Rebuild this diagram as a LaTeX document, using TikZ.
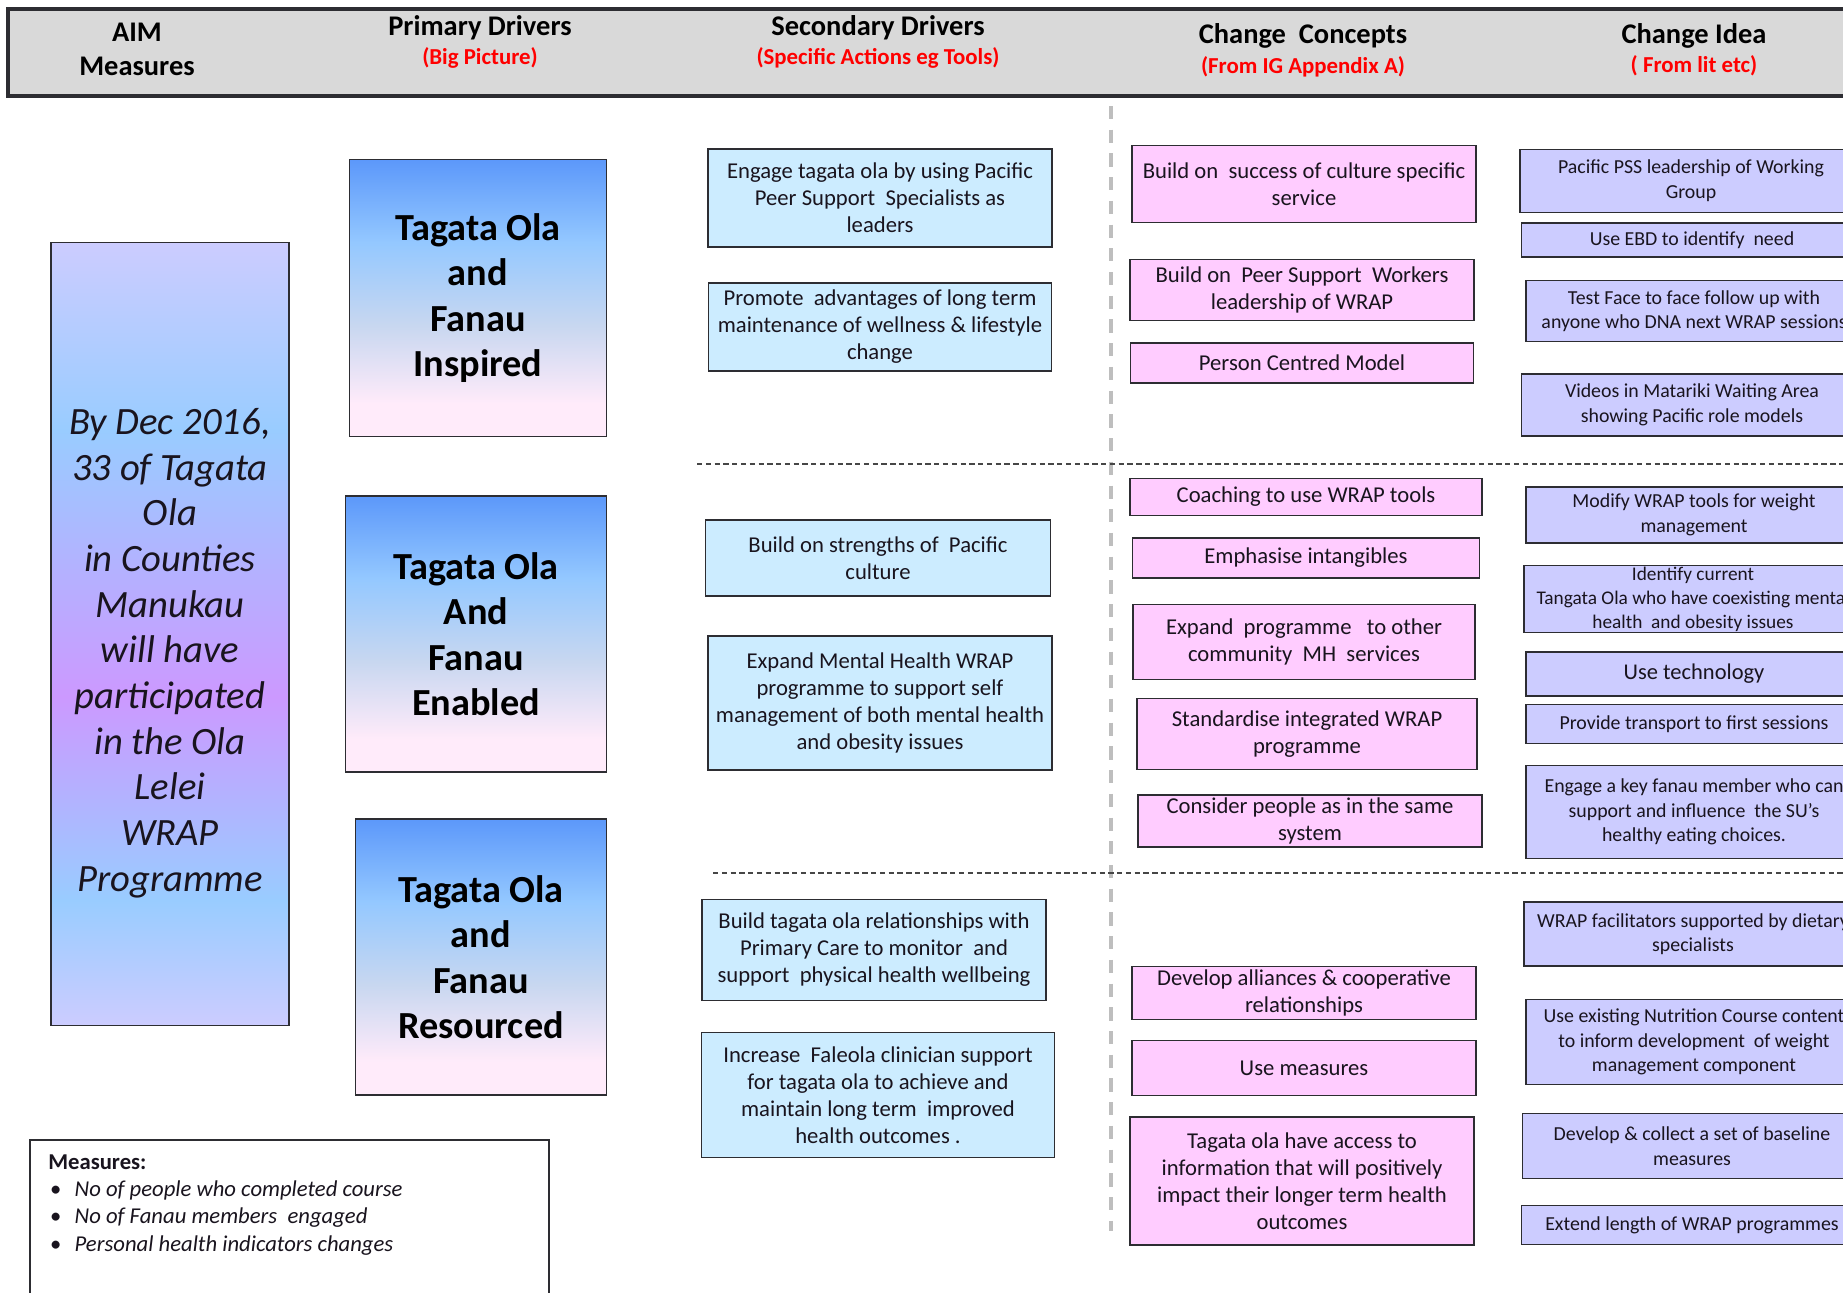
\documentclass[tikz,border=0pt]{standalone}
\usepackage{fontspec}
\setmainfont{Carlito}

\definecolor{sdblue}{RGB}{204,236,255}
\definecolor{ccpink}{RGB}{255,204,255}
\definecolor{cilav}{RGB}{204,204,255}
\definecolor{hdrgray}{RGB}{217,217,217}
\definecolor{edge}{RGB}{45,45,50}
\definecolor{sepgray}{RGB}{190,190,190}
\definecolor{rowgray}{RGB}{70,70,70}
\definecolor{inkdark}{RGB}{25,20,30}
\definecolor{aimlav}{RGB}{204,204,255}
\definecolor{aimblue}{RGB}{153,204,255}
\definecolor{aimpurp}{RGB}{204,153,255}
\definecolor{pdtop}{RGB}{92,152,250}
\definecolor{pdblue}{RGB}{148,200,255}
\definecolor{pdgrey}{RGB}{200,215,240}
\definecolor{pdpink}{RGB}{255,235,250}

\pgfdeclareverticalshading{aimshade}{100bp}{color(0bp)=(aimlav); color(25bp)=(aimlav); color(33bp)=(aimblue); color(46bp)=(aimpurp); color(63bp)=(aimblue); color(75bp)=(aimlav); color(100bp)=(aimlav)}
\pgfdeclareverticalshading{pdshade}{100bp}{color(0bp)=(pdpink); color(25bp)=(pdpink); color(31bp)=(pdpink); color(45bp)=(pdgrey); color(60bp)=(pdblue); color(75bp)=(pdtop); color(100bp)=(pdtop)}

\begin{document}
\begin{tikzpicture}[x=0.02cm, y=-0.02cm,
    wh/.style 2 args={minimum width=#1*0.02cm, minimum height=#2*0.02cm},
    cellbox/.style={draw=edge, line width=1.1pt, align=center, inner sep=0pt, text=inkdark},
    sdbox/.style={cellbox, fill=sdblue, font=\fontsize{12.9}{15.4}\selectfont},
    ccbox/.style={cellbox, fill=ccpink, font=\fontsize{12.9}{15.4}\selectfont},
    cibox/.style={cellbox, fill=cilav, font=\fontsize{11.3}{14}\selectfont},
    pdbox/.style={cellbox, shading=pdshade, text=black, font=\bfseries\fontsize{21.8}{25.9}\selectfont},
    hdtitle/.style={font=\bfseries\fontsize{16.2}{18}\selectfont},
    hdsub/.style={text=red, font=\bfseries\fontsize{13}{15}\selectfont}]

    \clip (0,0) rectangle (1843,1292);
    \fill[white] (0,0) rectangle (1843,1292);

    % header band
    \draw[fill=hdrgray, draw=edge, line width=2pt] (8,9) rectangle (1870,96);
    \node[hdtitle] (hAim)  at (137,32) {AIM};
    \node[hdtitle] (hMeas) at (137,66) {Measures};
    \node[hdtitle] (hPd)   at (480,28) {Primary Drivers};
    \node[hdsub]   (hPdS)  at (480,58) {(Big Picture)};
    \node[hdtitle] (hSd)   at (878,28) {Secondary Drivers};
    \node[hdsub]   (hSdS)  at (878,58) {(Specific Actions eg Tools)};
    \node[hdtitle] (hCc)   at (1303,36) {Change\ \ Concepts};
    \node[hdsub]   (hCcS)  at (1303,67) {(From IG Appendix A)};
    \node[hdtitle] (hCi)   at (1694,36) {Change Idea};
    \node[hdsub]   (hCiS)  at (1694,66) {( From lit etc)};

    % separators
    \draw[sepgray, line width=2.3pt, dash pattern=on 7.5pt off 6pt] (1111,106) -- (1111,1231);
    \draw[rowgray, line width=0.9pt, dash pattern=on 3pt off 2pt] (697,464) -- (1843,464);
    \draw[rowgray, line width=0.9pt, dash pattern=on 3pt off 2pt] (713,873) -- (1843,873);

    % aim
    \node[cellbox, shading=aimshade, wh={238}{783}] (aim) at (170,634) {};
    \node[align=center, text=inkdark, font=\itshape\fontsize{22}{26}\selectfont] (aimtext) at (170,653)
        {By Dec 2016,\\33 of Tagata\\Ola\\in Counties\\Manukau\\will have\\participated\\in the Ola\\Lelei\\WRAP\\Programme};

    % primary drivers
    \node[pdbox, wh={257}{277}] (pd1) at (478,298) {Tagata Ola\\and\\Fanau\\Inspired};
    \node[pdbox, wh={261}{276}] (pd2) at (476,634) {Tagata Ola\\And\\Fanau\\Enabled};
    \node[pdbox, wh={251}{276}] (pd3) at (481,957) {Tagata Ola\\and\\Fanau\\Resourced};

    % secondary drivers
    \node[sdbox, wh={344}{98}]  (sd1) at (880,198) {Engage tagata ola by using Pacific\\Peer Support\ \ Specialists as\\leaders};
    \node[sdbox, wh={343}{88}]  (sd2) at (880,327) {Promote\ \ advantages of long term\\maintenance of wellness \& lifestyle\\change};
    \node[sdbox, wh={345}{76}]  (sd3) at (878,558) {Build on strengths of\ \ Pacific\\culture};
    \node[sdbox, wh={344}{134}] (sd4) at (880,703) {Expand Mental Health WRAP\\programme to support self\\management of both mental health\\and obesity issues};
    \node[sdbox, wh={344}{101}] (sd5) at (874,950) {Build tagata ola relationships with\\Primary Care to monitor\ \ and\\support\ \ physical health wellbeing};
    \node[sdbox, wh={353}{125}] (sd6) at (878,1095) {Increase\ \ Faleola clinician support\\for tagata ola to achieve and\\maintain long term\ \ improved\\health outcomes\ .};

    % change concepts
    \node[ccbox, wh={344}{77}]  (cc1)  at (1304,184) {Build on\ \ success of culture specific\\service};
    \node[ccbox, wh={344}{61}]  (cc2)  at (1302,290) {Build on\ \ Peer Support\ \ Workers\\leadership of WRAP};
    \node[ccbox, wh={343}{40}]  (cc3)  at (1302,363) {Person Centred Model};
    \node[ccbox, wh={352}{37}]  (cc4)  at (1306,497) {Coaching to use WRAP tools};
    \node[ccbox, wh={347}{40}]  (cc5)  at (1306,558) {Emphasise intangibles};
    \node[ccbox, wh={342}{75}]  (cc6)  at (1304,642) {Expand\ \ programme\ \ \ to other\\community\ \ MH\ \ services};
    \node[ccbox, wh={340}{71}]  (cc7)  at (1307,734) {Standardise integrated WRAP\\programme};
    \node[ccbox, wh={344}{52}]  (cc8)  at (1310,821) {Consider people as in the same\\system};
    \node[ccbox, wh={344}{53}]  (cc9)  at (1304,993) {Develop alliances \& cooperative\\relationships};
    \node[ccbox, wh={344}{55}]  (cc10) at (1304,1068) {Use measures};
    \node[ccbox, wh={344}{128}] (cc11) at (1302,1181) {Tagata ola have access to\\information that will positively\\impact their longer term health\\outcomes};

    % change ideas (run off the right edge)
    \node[cibox, wh={342}{63}] (ci1)  at (1691,181) {Pacific PSS leadership of Working\\Group};
    \node[cibox, wh={341}{34}] (ci2)  at (1692,240) {Use EBD to identify\ \ need};
    \node[cibox, wh={336}{61}] (ci3)  at (1694,311) {Test Face to face follow up with\\anyone who DNA next WRAP sessions};
    \node[cibox, wh={341}{62}] (ci4)  at (1692,405) {Videos in Matariki Waiting Area\\showing Pacific role models};
    \node[cibox, wh={336}{56}] (ci5)  at (1694,515) {Modify WRAP tools for weight\\management};
    \node[cibox, wh={338}{67}, font=\fontsize{11}{13.6}\selectfont] (ci6) at (1693,599) {Identify current\\Tangata Ola who have coexisting mental\\health\ \ and obesity issues};
    \node[cibox, wh={336}{44}, font=\fontsize{12.8}{15}\selectfont] (ci7) at (1694,674) {Use technology};
    \node[cibox, wh={336}{39}] (ci8)  at (1694,724) {Provide transport to first sessions};
    \node[cibox, wh={336}{93}] (ci9)  at (1694,812) {Engage a key fanau member who can\\support and influence\ \ the SU’s\\healthy eating choices.};
    \node[cibox, wh={338}{64}] (ci10) at (1693,934) {WRAP facilitators supported by dietary\\specialists};
    \node[cibox, wh={336}{85}] (ci11) at (1694,1042) {Use existing Nutrition Course content\\to inform development\ \ of weight\\management component};
    \node[cibox, wh={339}{65}] (ci12) at (1692,1146) {Develop \& collect a set of baseline\\measures};
    \node[cibox, wh={341}{39}] (ci13) at (1692,1225) {Extend length of WRAP programmes};

    % measures
    \node[cellbox, fill=white, wh={519}{180}, anchor=north west] (measures) at (29,1139) {};
    \node[anchor=north west, align=left, inner sep=0pt, text=inkdark, font=\fontsize{12.9}{15.6}\selectfont] (mtext) at (48,1154)
        {\textbf{Measures:}\\
         \hspace*{1pt}\makebox[14pt][l]{\textbullet}\textit{No of people who completed course}\\
         \hspace*{1pt}\makebox[14pt][l]{\textbullet}\textit{No of Fanau members\ \ engaged}\\
         \hspace*{1pt}\makebox[14pt][l]{\textbullet}\textit{Personal health indicators changes}};
\end{tikzpicture}
\end{document}
